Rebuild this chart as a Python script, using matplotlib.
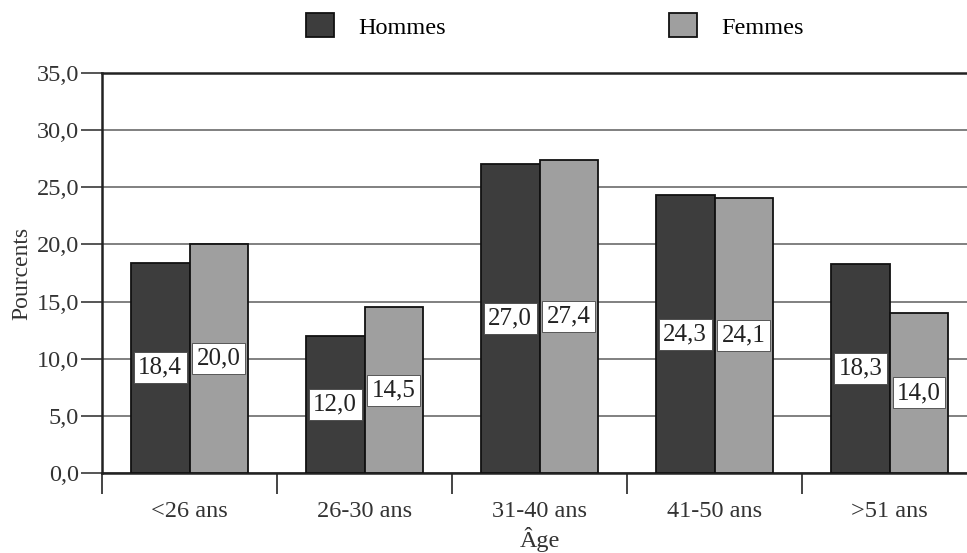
import matplotlib.pyplot as plt
import numpy as np

categories = ["<26 ans", "26-30 ans", "31-40 ans", "41-50 ans", ">51 ans"]
hommes = [18.4, 12.0, 27.0, 24.3, 18.3]
femmes = [20.0, 14.5, 27.4, 24.1, 14.0]
yticks = [0, 5, 10, 15, 20, 25, 30, 35]

plt.rcParams['font.family'] = ['Liberation Serif', 'DejaVu Serif']

fig = plt.figure(figsize=(9.67, 5.53), dpi=100)
ax = fig.add_axes([0.1055, 0.1447, 0.905, 0.7233])

x = np.arange(len(categories))
w = 0.335
b1 = ax.bar(x - w / 2, hommes, w, color="#3d3d3d", edgecolor="#111111",
            linewidth=1.3, zorder=3, label="Hommes")
b2 = ax.bar(x + w / 2, femmes, w, color="#9f9f9f", edgecolor="#111111",
            linewidth=1.3, zorder=3, label="Femmes")

def fmt(v):
    return f"{v:.1f}".replace(".", ",")

for xs, vals in [(x - w / 2, hommes), (x + w / 2, femmes)]:
    for xi, v in zip(xs, vals):
        ax.text(xi, v / 2, fmt(v), ha="center", va="center", fontsize=18,
                color="#222222", zorder=4,
                bbox=dict(boxstyle="square,pad=0.18", facecolor="white",
                          edgecolor="#444444", linewidth=0.6))

ax.set_xlim(-0.5, 4.5)
ax.set_ylim(0, 35)
ax.set_yticks(yticks)
ax.set_yticklabels([fmt(v) for v in yticks], fontsize=17.5, color="#333333")
ax.yaxis.grid(True, color="#808080", linewidth=1.4, zorder=0)
ax.set_axisbelow(True)

ax.set_xticks(np.arange(-0.5, 5, 1))
ax.set_xticklabels([])
ax.set_xticks(x, minor=True)
ax.set_xticklabels(categories, minor=True, fontsize=17.5, color="#333333")
ax.tick_params(axis="x", which="major", length=15, width=1.4, color="#444444")
ax.tick_params(axis="x", which="minor", length=0, pad=20)
ax.tick_params(axis="y", length=15, width=1.4, color="#555555", pad=1.5)

for s in ["left", "bottom", "top"]:
    ax.spines[s].set_linewidth(1.8)
    ax.spines[s].set_color("#222222")
ax.spines["right"].set_visible(False)

ax.set_xlabel("Âge", fontsize=17.5, color="#333333", labelpad=4)
ax.set_ylabel("Pourcents", fontsize=17, color="#333333", labelpad=3)

fig.legend(handles=[b1, b2], loc="center", bbox_to_anchor=(0.574, 0.953),
           ncol=2, frameon=False, fontsize=17.5, handlelength=1.15,
           handleheight=1.15, handletextpad=1.0, columnspacing=9.2)

fig.savefig("out.png", dpi=100)
